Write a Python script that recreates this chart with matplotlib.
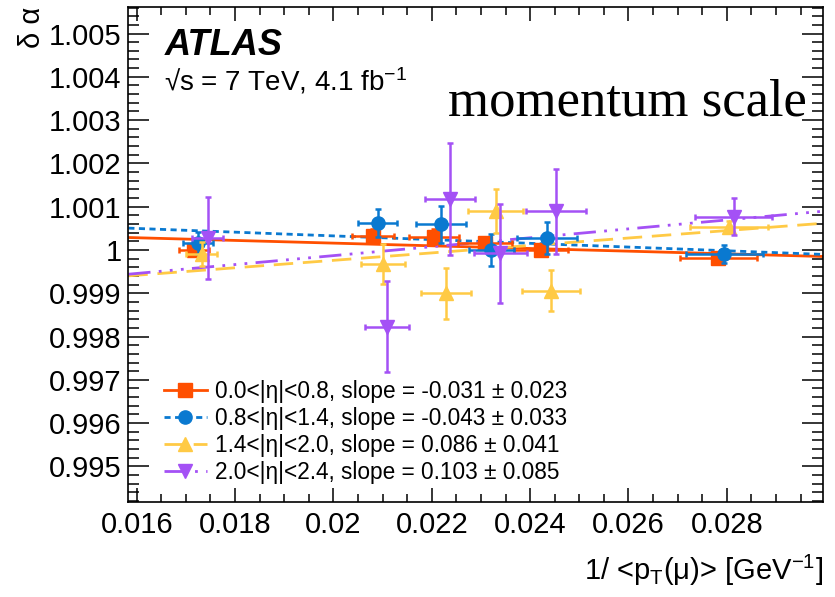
import matplotlib
matplotlib.use("Agg")
import matplotlib.pyplot as plt
from matplotlib.lines import Line2D
import numpy as np

plt.rcParams["font.family"] = ["Liberation Sans", "DejaVu Sans"]
plt.rcParams["mathtext.fontset"] = "custom"
plt.rcParams["mathtext.rm"] = "Liberation Sans"
plt.rcParams["mathtext.it"] = "Liberation Sans:italic"

# eta bins, 1/<pT> bin centres and delta alpha with errors
labels = ["0.0<|η|<0.8", "0.8<|η|<1.4", "1.4<|η|<2.0", "2.0<|η|<2.4"]

x_eta1 = [0.01717, 0.02080, 0.02205, 0.02309, 0.02422, 0.02783]
y_eta1 = [1.00000, 1.00032, 1.00031, 1.00016, 1.00000, 0.99981]
xerr_eta1 = [0.00030, 0.00043, 0.00051, 0.00055, 0.00055, 0.00079]
yerr_eta1 = [0.00014, 0.00017, 0.00017, 0.00012, 0.00012, 0.00012]

x_eta2 = [0.01725, 0.02090, 0.02219, 0.02321, 0.02434, 0.02795]
y_eta2 = [1.00016, 1.00063, 1.00059, 1.00000, 1.00027, 0.99991]
xerr_eta2 = [0.00031, 0.00040, 0.00051, 0.00046, 0.00061, 0.00079]
yerr_eta2 = [0.00025, 0.00032, 0.00042, 0.00036, 0.00037, 0.00021]

x_eta3 = [0.01732, 0.02101, 0.02229, 0.02330, 0.02443, 0.02804]
y_eta3 = [0.99991, 0.99967, 0.99900, 1.00090, 0.99906, 1.00054]
xerr_eta3 = [0.00031, 0.00045, 0.00051, 0.00056, 0.00059, 0.00079]
yerr_eta3 = [0.00027, 0.00046, 0.00059, 0.00051, 0.00047, 0.00014]

x_eta4 = [0.01744, 0.02109, 0.02237, 0.02339, 0.02453, 0.02814]
y_eta4 = [1.00027, 0.99823, 1.00118, 0.99992, 1.00089, 1.00077]
xerr_eta4 = [0.00031, 0.00045, 0.00050, 0.00054, 0.00061, 0.00078]
yerr_eta4 = [0.00095, 0.00106, 0.00129, 0.00114, 0.00099, 0.00042]

# linear fits: value at 1/pT = 0.016 and slope
fit_x0 = 0.016
fit_offset = [1.000282, 1.000497, 0.999416, 0.999457]
fit_slope = [-0.031, -0.043, 0.086, 0.103]
fit_slope_err = [0.023, 0.033, 0.041, 0.085]

colors = ["#ff4f00", "#0a79d0", "#ffca45", "#a451f5"]
markers = ["s", "o", "^", "v"]
styles = ["-", (0, (2.2, 1.6)), (0, (7, 3.5)), (0, (8, 3, 1, 3, 1, 3, 1, 3))]

xs = [x_eta1, x_eta2, x_eta3, x_eta4]
ys = [y_eta1, y_eta2, y_eta3, y_eta4]
xerrs = [xerr_eta1, xerr_eta2, xerr_eta3, xerr_eta4]
yerrs = [yerr_eta1, yerr_eta2, yerr_eta3, yerr_eta4]

xmin, xmax = 0.01583, 0.02995
ymin, ymax = 0.99417, 1.00562

fig = plt.figure(figsize=(8.35, 5.97), dpi=100)
ax = fig.add_axes([0.1537, 0.1586, 0.8316, 0.8302])

xl = np.array([xmin, xmax])
for i in range(4):
    ax.plot(xl, fit_offset[i] + fit_slope[i] * (xl - fit_x0), color=colors[i],
            ls=styles[i], lw=2.0, zorder=2)

for i in range(4):
    ax.errorbar(xs[i], ys[i], xerr=xerrs[i], yerr=yerrs[i], fmt=markers[i],
                color=colors[i], ms=9.5, elinewidth=1.8, capsize=2.5,
                capthick=1.8, zorder=3 + i)

ax.set_xlim(xmin, xmax)
ax.set_ylim(ymin, ymax)

ax.set_xticks(np.arange(0.016, 0.0285, 0.002))
ax.set_xticklabels(["0.016", "0.018", "0.02", "0.022", "0.024", "0.026", "0.028"])
ax.set_xticks(np.arange(0.016, 0.0300, 0.0005), minor=True)
yt = np.arange(0.995, 1.0055, 0.001)
ax.set_yticks(yt)
ax.set_yticklabels(["0.995", "0.996", "0.997", "0.998", "0.999", "1",
                    "1.001", "1.002", "1.003", "1.004", "1.005"])
ax.set_yticks(np.arange(0.9942, 1.0057, 0.0002), minor=True)

ax.tick_params(axis="both", which="both", direction="in", top=True, right=True,
               labelsize=21, width=1.1)
ax.tick_params(axis="x", which="major", length=10, pad=6)
ax.tick_params(axis="x", which="minor", length=5.5)
ax.tick_params(axis="y", which="major", length=15, pad=5)
ax.tick_params(axis="y", which="minor", length=8)
for sp in ax.spines.values():
    sp.set_linewidth(1.2)

ax.set_xlabel(r"1/ <p$_{\mathregular{T}}$(μ)> [GeV$^{\mathregular{-1}}$]",
              fontsize=21, loc="right", labelpad=10)
ax.set_ylabel("δ α", fontsize=21, loc="top", labelpad=2)

ax.text(0.052, 0.9025, "ATLAS", transform=ax.transAxes, fontsize=26,
        fontweight="bold", fontstyle="italic", va="baseline")
ax.text(0.052, 0.83, r"√s = 7 TeV, 4.1 fb$^{\mathregular{-1}}$",
        transform=ax.transAxes, fontsize=20, va="baseline")
ax.text(0.977, 0.78, "momentum scale", transform=ax.transAxes,
        fontsize=38, family="Liberation Serif", ha="right", va="baseline")

handles = [Line2D([], [], color=colors[i], ls=styles[i], lw=2.0,
                  marker=markers[i], ms=9.5) for i in range(4)]
leg_text = ["{}, slope = {:.3f} ± {:.3f}".format(labels[i], fit_slope[i],
                                                  fit_slope_err[i])
            for i in range(4)]
ax.legend(handles, leg_text, loc="upper left", bbox_to_anchor=(0.035, 0.27),
          frameon=False, fontsize=16.3, handlelength=1.9, handletextpad=0.35,
          labelspacing=0.18, borderpad=0)

fig.savefig("out.png", dpi=100)
